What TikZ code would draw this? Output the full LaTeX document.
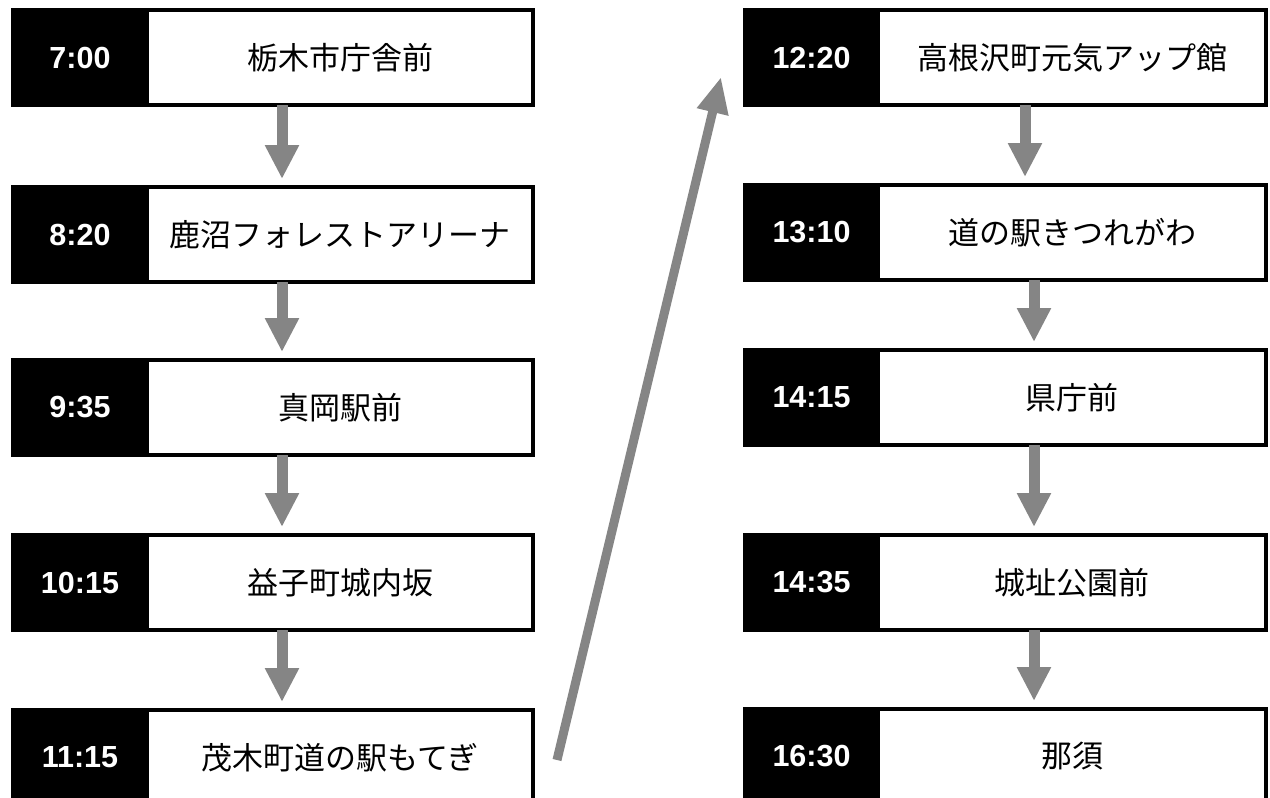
\documentclass[tikz,border=0pt]{standalone}
\usepackage{fontspec}
\newfontfamily\timefont{Liberation Sans}
\newfontfamily\jpfont{Noto Sans CJK JP}
\usetikzlibrary{arrows.meta}
\definecolor{arrowgray}{gray}{0.52}
\begin{document}
\begin{tikzpicture}[x=1pt,y=-1pt,
  timebox/.style={draw=black, fill=black, line width=4pt, outer sep=0pt, inner sep=0pt,
    minimum height=95pt, anchor=north west, text=white,
    font=\timefont\bfseries\fontsize{30.5}{34}\selectfont},
  placebox/.style={draw=black, fill=white, line width=4pt, outer sep=0pt, inner sep=0pt,
    minimum height=95pt, anchor=north west, font=\jpfont\fontsize{31}{34}\selectfont},
  downarrow/.style={draw=arrowgray, line width=11pt, -{Triangle[width=32pt,length=34pt]}, shorten >=8pt},
  diagarrow/.style={draw=arrowgray, line width=9pt, -{Triangle[width=30pt,length=36pt]}}
]
\useasboundingbox (0,0) rectangle (1270,798);
\clip (0,0) rectangle (1270,798);
\fill[white] (0,0) rectangle (1270,798);

% left column
\node[timebox, minimum width=134pt] (t1) at (13,10) {7:00};
\node[placebox, minimum width=386pt] (p1) at (t1.north east) {栃木市庁舎前};
\node[timebox, minimum width=134pt] (t2) at (13,187) {8:20};
\node[placebox, minimum width=386pt] (p2) at (t2.north east) {鹿沼フォレストアリーナ};
\node[timebox, minimum width=134pt] (t3) at (13,360) {9:35};
\node[placebox, minimum width=386pt] (p3) at (t3.north east) {真岡駅前};
\node[timebox, minimum width=134pt] (t4) at (13,535) {10:15};
\node[placebox, minimum width=386pt] (p4) at (t4.north east) {益子町城内坂};
\node[timebox, minimum width=134pt] (t5) at (13,710) {11:15};
\node[placebox, minimum width=386pt] (p5) at (t5.north east) {茂木町道の駅もてぎ};

% right column
\node[timebox, minimum width=133pt] (t6) at (745,10) {12:20};
\node[placebox, minimum width=388pt] (p6) at (t6.north east) {高根沢町元気アップ館};
\node[timebox, minimum width=133pt] (t7) at (745,185) {13:10};
\node[placebox, minimum width=388pt] (p7) at (t7.north east) {道の駅きつれがわ};
\node[timebox, minimum width=133pt] (t8) at (745,350) {14:15};
\node[placebox, minimum width=388pt] (p8) at (t8.north east) {県庁前};
\node[timebox, minimum width=133pt] (t9) at (745,535) {14:35};
\node[placebox, minimum width=388pt] (p9) at (t9.north east) {城址公園前};
\node[timebox, minimum width=133pt] (t10) at (745,709) {16:30};
\node[placebox, minimum width=388pt] (p10) at (t10.north east) {那須};

% arrow columns
\coordinate (la) at (282,0);
\coordinate (ra1) at (1025,0);
\coordinate (ra) at (1034,0);

\draw[downarrow] (p1.south -| la) -- (p2.north -| la);
\draw[downarrow] (p2.south -| la) -- (p3.north -| la);
\draw[downarrow] (p3.south -| la) -- (p4.north -| la);
\draw[downarrow] (p4.south -| la) -- (p5.north -| la);

\draw[downarrow] (p6.south -| ra1) -- (p7.north -| ra1);
\draw[downarrow] (p7.south -| ra) -- (p8.north -| ra);
\draw[downarrow] (p8.south -| ra) -- (p9.north -| ra);
\draw[downarrow] (p9.south -| ra) -- (p10.north -| ra);

% diagonal arrow
\coordinate (tail) at (557,760);
\coordinate (tip) at (721,77);
\draw[diagarrow] (tail) -- (tip);
\end{tikzpicture}
\end{document}
